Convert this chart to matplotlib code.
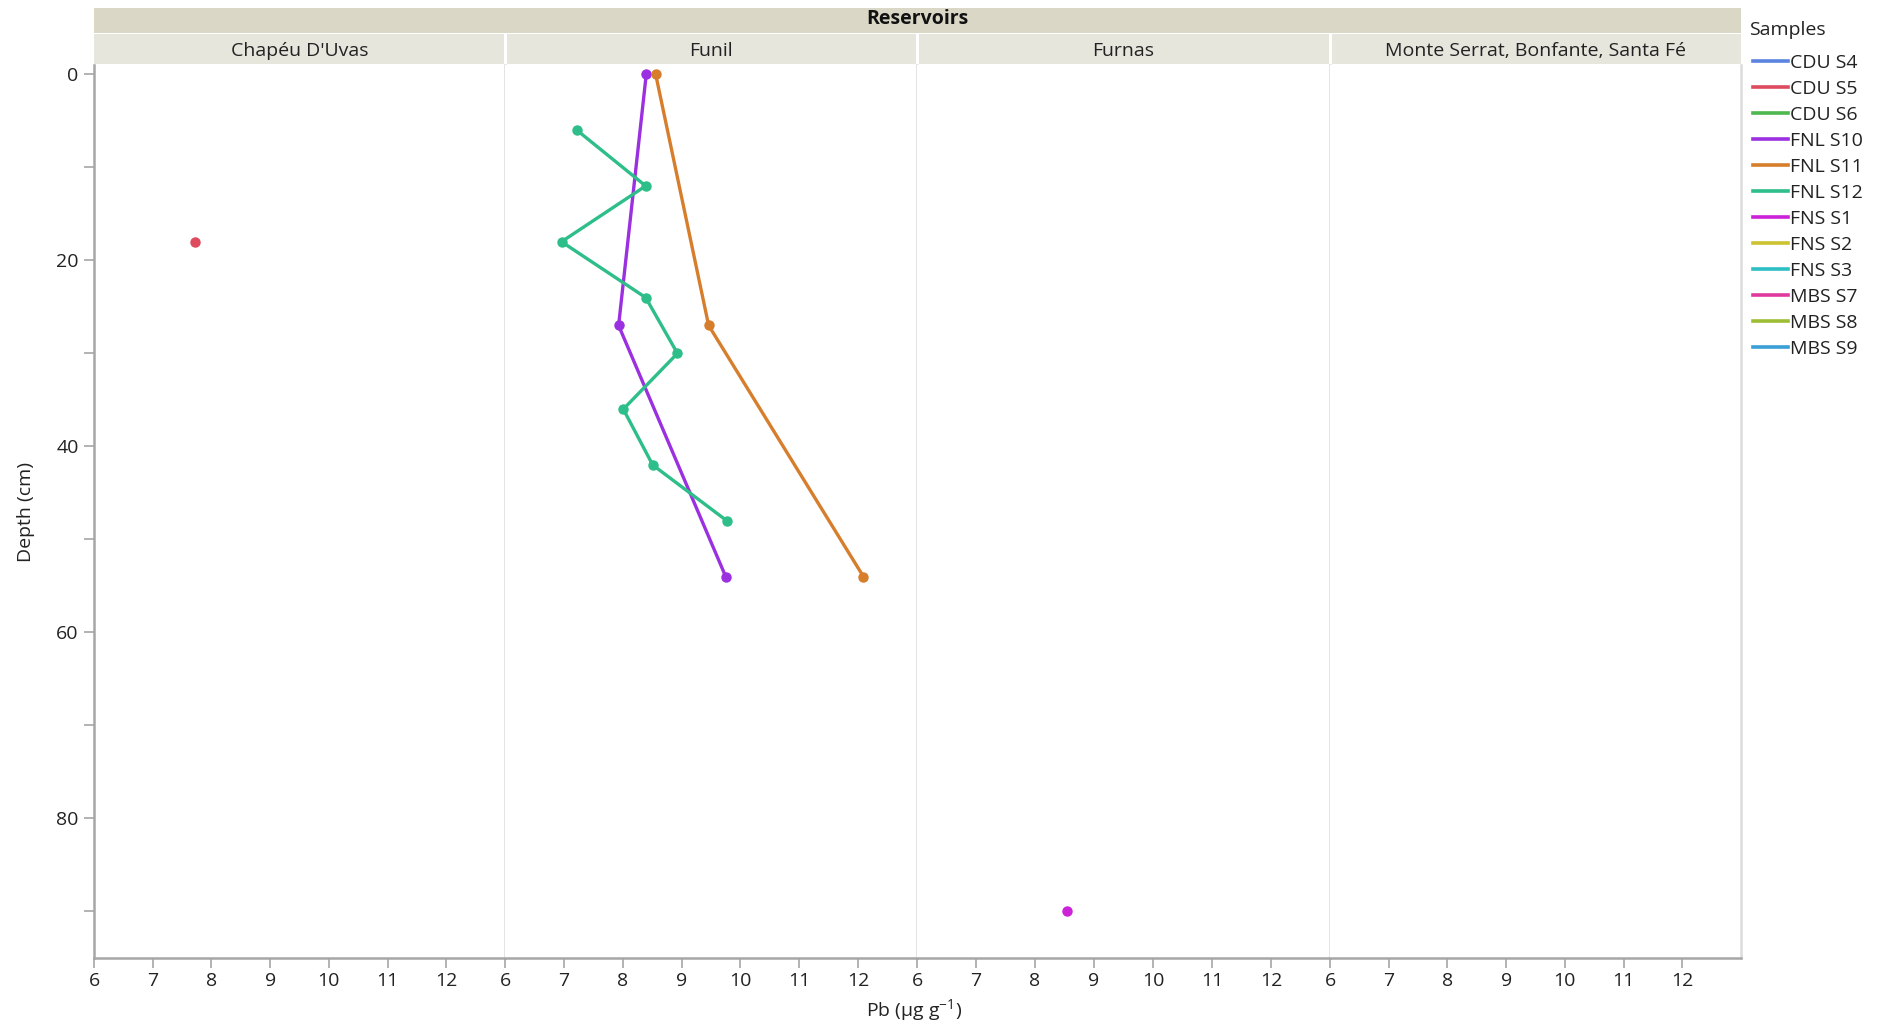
import matplotlib
matplotlib.use("Agg")
import matplotlib.pyplot as plt
from matplotlib.patches import Rectangle
from matplotlib.lines import Line2D

plt.rcParams['font.family'] = ['Open Sans', 'DejaVu Sans']
plt.rcParams['mathtext.fontset'] = 'custom'
plt.rcParams['mathtext.rm'] = 'Open Sans'
plt.rcParams['mathtext.it'] = 'Open Sans'

# ---- data -------------------------------------------------------------
reservoirs = ["Chapéu D'Uvas", "Funil", "Furnas", "Monte Serrat, Bonfante, Santa Fé"]

samples = ["CDU S4", "CDU S5", "CDU S6", "FNL S10", "FNL S11", "FNL S12",
           "FNS S1", "FNS S2", "FNS S3", "MBS S7", "MBS S8", "MBS S9"]
sample_reservoir = [0, 0, 0, 1, 1, 1, 2, 2, 2, 3, 3, 3]
sample_colors = ["#5B84E0", "#DE4A5E", "#4CB84E", "#9B30E0", "#D67E2C", "#2DBE8A",
                 "#CC22D8", "#CDC332", "#2EBFC4", "#E0399E", "#9DBE34", "#3A9FD6"]

# Pb concentration (µg g-1) and depth (cm) per sample core
pb = {
    "CDU S5": [7.72],
    "FNL S10": [8.40, 7.93, 9.75],
    "FNL S11": [8.56, 9.46, 12.09],
    "FNL S12": [7.22, 8.39, 6.96, 8.39, 8.93, 8.01, 8.51, 9.77],
    "FNS S1": [8.54],
}
depth = {
    "CDU S5": [18],
    "FNL S10": [0, 27, 54],
    "FNL S11": [0, 27, 54],
    "FNL S12": [6, 12, 18, 24, 30, 36, 42, 48],
    "FNS S1": [90],
}

x_ticks = [6, 7, 8, 9, 10, 11, 12]
y_major = [0, 20, 40, 60, 80]
y_minor = [10, 30, 50, 70, 90]

# ---- layout (pixel geometry of the canvas) ------------------------------
W, H = 1885, 1025
def fx(px):
    return px / W
def fy(py):
    return 1 - py / H

edges = [94, 505, 917, 1330, 1741]
top, bottom = 65, 958

fig = plt.figure(figsize=(W / 100, H / 100), dpi=100)
fig.patch.set_facecolor("white")

tick_grey = "#A6A6A6"
text_col = "#222222"
fs = 14

axes = []
for i in range(4):
    ax = fig.add_axes([fx(edges[i]), fy(bottom), fx(edges[i + 1] - edges[i]), (bottom - top) / H])
    ax.set_xlim(6, 13)
    ax.set_ylim(95, -1)
    ax.set_xticks(x_ticks)
    ax.tick_params(axis="x", direction="out", length=7, width=1.2, color=tick_grey,
                   labelsize=fs, labelcolor=text_col, pad=3)
    ax.spines["top"].set_visible(False)
    ax.spines["bottom"].set_color(tick_grey)
    ax.spines["bottom"].set_linewidth(1.8)
    ax.spines["right"].set_color("#DCDCDC")
    ax.spines["right"].set_linewidth(1.8)
    if i == 0:
        ax.set_yticks(y_major)
        ax.set_yticks(y_minor, minor=True)
        ax.tick_params(axis="y", which="both", direction="out", length=7, width=1.2,
                       color=tick_grey, labelsize=fs, labelcolor=text_col, pad=4)
        ax.spines["left"].set_color(tick_grey)
        ax.spines["left"].set_linewidth(1.8)
        ax.set_ylabel("Depth (cm)", fontsize=fs, color=text_col, labelpad=15)
    else:
        ax.set_yticks([])
        ax.spines["left"].set_visible(False)
    axes.append(ax)

# ---- series --------------------------------------------------------------
handles = []
for name, res, col in zip(samples, sample_reservoir, sample_colors):
    if name in pb:
        axes[res].plot(pb[name], depth[name], color=col, lw=2.4, marker="o",
                       ms=6.5, mec=col, mfc=col, clip_on=False, zorder=3)
    handles.append(Line2D([], [], color=col, lw=2.6, label=name))

# ---- facet header bands ---------------------------------------------------
fig.add_artist(Rectangle((fx(edges[0]), fy(33)), fx(edges[-1] - edges[0]), (33 - 8) / H,
                         transform=fig.transFigure, facecolor="#DAD7C7", edgecolor="none"))
fig.text(fx((edges[0] + edges[-1]) / 2), fy(19), "Reservoirs", ha="center", va="center",
         fontsize=fs, fontweight="bold", color="#111111")
for i, name in enumerate(reservoirs):
    x0 = edges[i] + (0 if i == 0 else 1.5)
    x1 = edges[i + 1] - (0 if i == 3 else 1.5)
    fig.add_artist(Rectangle((fx(x0), fy(64)), fx(x1 - x0), (64 - 34) / H,
                             transform=fig.transFigure, facecolor="#E7E6DD", edgecolor="none"))
    fig.text(fx((edges[i] + edges[i + 1]) / 2), fy(51), name, ha="center", va="center",
             fontsize=fs, color=text_col)

fig.text(fx(914), fy(1010), "Pb (μg g$^{-1}$)", ha="center", va="center",
         fontsize=fs, color=text_col)

# ---- legend ----------------------------------------------------------------
fig.text(fx(1749), fy(30), "Samples", ha="left", va="center", fontsize=fs, color=text_col)
fig.legend(handles=handles, loc="upper left",
           bbox_to_anchor=(fx(1753), fy(54)), frameon=False, fontsize=fs,
           handlelength=1.8, handletextpad=0.1,
           labelspacing=0.41, borderpad=0, borderaxespad=0,
           labelcolor=text_col)

fig.savefig("out.png", dpi=100, facecolor="white")
